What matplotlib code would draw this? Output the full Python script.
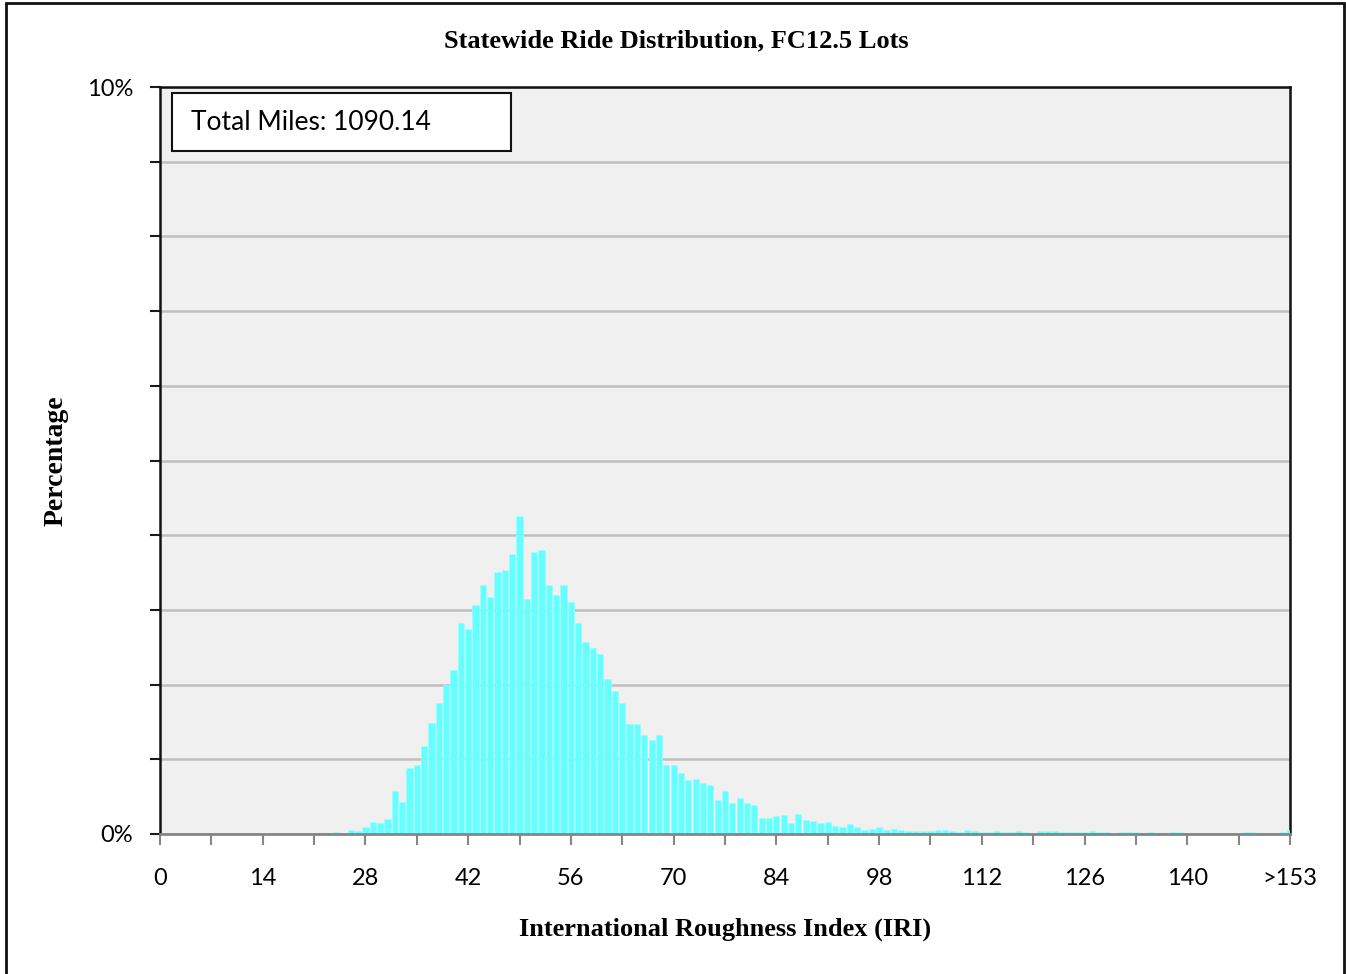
"""Statewide ride distribution histogram (FC12.5 lots)."""
import matplotlib

matplotlib.use("Agg")
import matplotlib.pyplot as plt
from matplotlib.patches import Rectangle

# IRI bins 0..153 plus the overflow bin
categories = [str(i) for i in range(154)] + [">153"]

# percentage of miles in each IRI bin
pct = (
    [0.0] * 24
    + [0.03, 0.0, 0.05, 0.04, 0.10, 0.165, 0.15, 0.20, 0.57, 0.43,          # 24-33
       0.89, 0.92, 1.18, 1.48, 1.76, 1.99, 2.20, 2.83, 2.75, 3.06,          # 34-43
       3.34, 3.17, 3.51, 3.53, 3.75, 4.26, 3.15, 3.78, 3.80, 3.33,          # 44-53
       3.20, 3.33, 3.10, 2.83, 2.57, 2.49, 2.41, 2.07, 1.92, 1.76,          # 54-63
       1.47, 1.47, 1.32, 1.26, 1.32, 0.93, 0.92, 0.82, 0.72, 0.73,          # 64-73
       0.68, 0.65, 0.45, 0.58, 0.42, 0.48, 0.42, 0.39, 0.21, 0.21,          # 74-83
       0.24, 0.26, 0.15, 0.27, 0.19, 0.18, 0.15, 0.16, 0.11, 0.10,          # 84-93
       0.14, 0.10, 0.06, 0.07, 0.09, 0.05, 0.07, 0.05, 0.04, 0.04,          # 94-103
       0.04, 0.04, 0.05, 0.05, 0.035, 0.03, 0.06, 0.04, 0.03, 0.03,         # 104-113
       0.04, 0.03, 0.03, 0.04, 0.03, 0.0, 0.04, 0.04, 0.04, 0.03,           # 114-123
       0.03, 0.03, 0.03, 0.045, 0.03, 0.03, 0.0, 0.03, 0.03, 0.03,          # 124-133
       0.0, 0.03, 0.0, 0.0, 0.03, 0.03]                                     # 134-139
    + [0.0] * 8                                                             # 140-147
    + [0.03, 0.03, 0.0, 0.0, 0.0, 0.03, 0.05]                               # 148-154
)

total_miles = "1090.14"

SERIF = "Liberation Serif"
SANS = "Lato"
BAR = "#66ffff"

W, H = 1346, 974
fig = plt.figure(figsize=(W / 100, H / 100), dpi=100)
ax = fig.add_axes([160 / W, 1 - 834 / H, 1130 / W, 747 / H])
ax.set_facecolor("#f0f0f0")

x = list(range(len(categories)))
ax.bar(x, pct, width=0.85, color=BAR, edgecolor="#9cffff", linewidth=0.4, zorder=3)

ax.set_xlim(0, len(categories) - 1)
ax.set_ylim(0, 10)

xt = list(range(0, len(categories), 7))
ax.set_xticks(xt)
ax.set_xticklabels([categories[i] if i % 14 == 0 else "" for i in xt], fontsize=17, family=SANS)
ax.set_yticks(range(0, 11))
ax.set_yticklabels(["0%"] + [""] * 9 + ["10%"], fontsize=17, family=SANS)
ax.tick_params(axis="x", direction="out", length=8, width=1.5, color="#868686", pad=16.5)
ax.tick_params(axis="y", direction="out", length=7, width=1.5, color="#1a1a1a", pad=12.5)

ax.yaxis.grid(True, color="#bfbfbf", lw=1.8, zorder=1)
ax.set_axisbelow(True)
for side in ("left", "top", "right"):
    ax.spines[side].set_color("#111111")
    ax.spines[side].set_linewidth(1.8)
ax.spines["bottom"].set_color("#868686")
ax.spines["bottom"].set_linewidth(2)
ax.spines["bottom"].set_zorder(4)

fig.text(676 / W, 1 - 41 / H, "Statewide Ride Distribution, FC12.5 Lots",
         ha="center", va="center", fontsize=19, fontweight="bold", family=SERIF)
fig.text(725 / W, 1 - 929 / H, "International Roughness Index (IRI)",
         ha="center", va="center", fontsize=19, fontweight="bold", family=SERIF)
fig.text(56 / W, 1 - 461 / H, "Percentage", rotation=90,
         ha="center", va="center", fontsize=20, fontweight="bold", family=SERIF)

# annotation box
fig.patches.append(Rectangle((172 / W, 1 - 151 / H), 339 / W, 58 / H, transform=fig.transFigure,
                             fc="white", ec="#111111", lw=1.5, zorder=5))
fig.text(191 / W, 1 - 123 / H, f"Total Miles: {total_miles}", ha="left", va="center",
         fontsize=19, family=SANS, zorder=6)

# outer chart border
fig.patches.append(Rectangle((6 / W, -0.01), 1338 / W, 1 - 3 / H + 0.01, transform=fig.transFigure,
                             fill=False, ec="#111111", lw=2))

fig.savefig("out.png", dpi=100)
